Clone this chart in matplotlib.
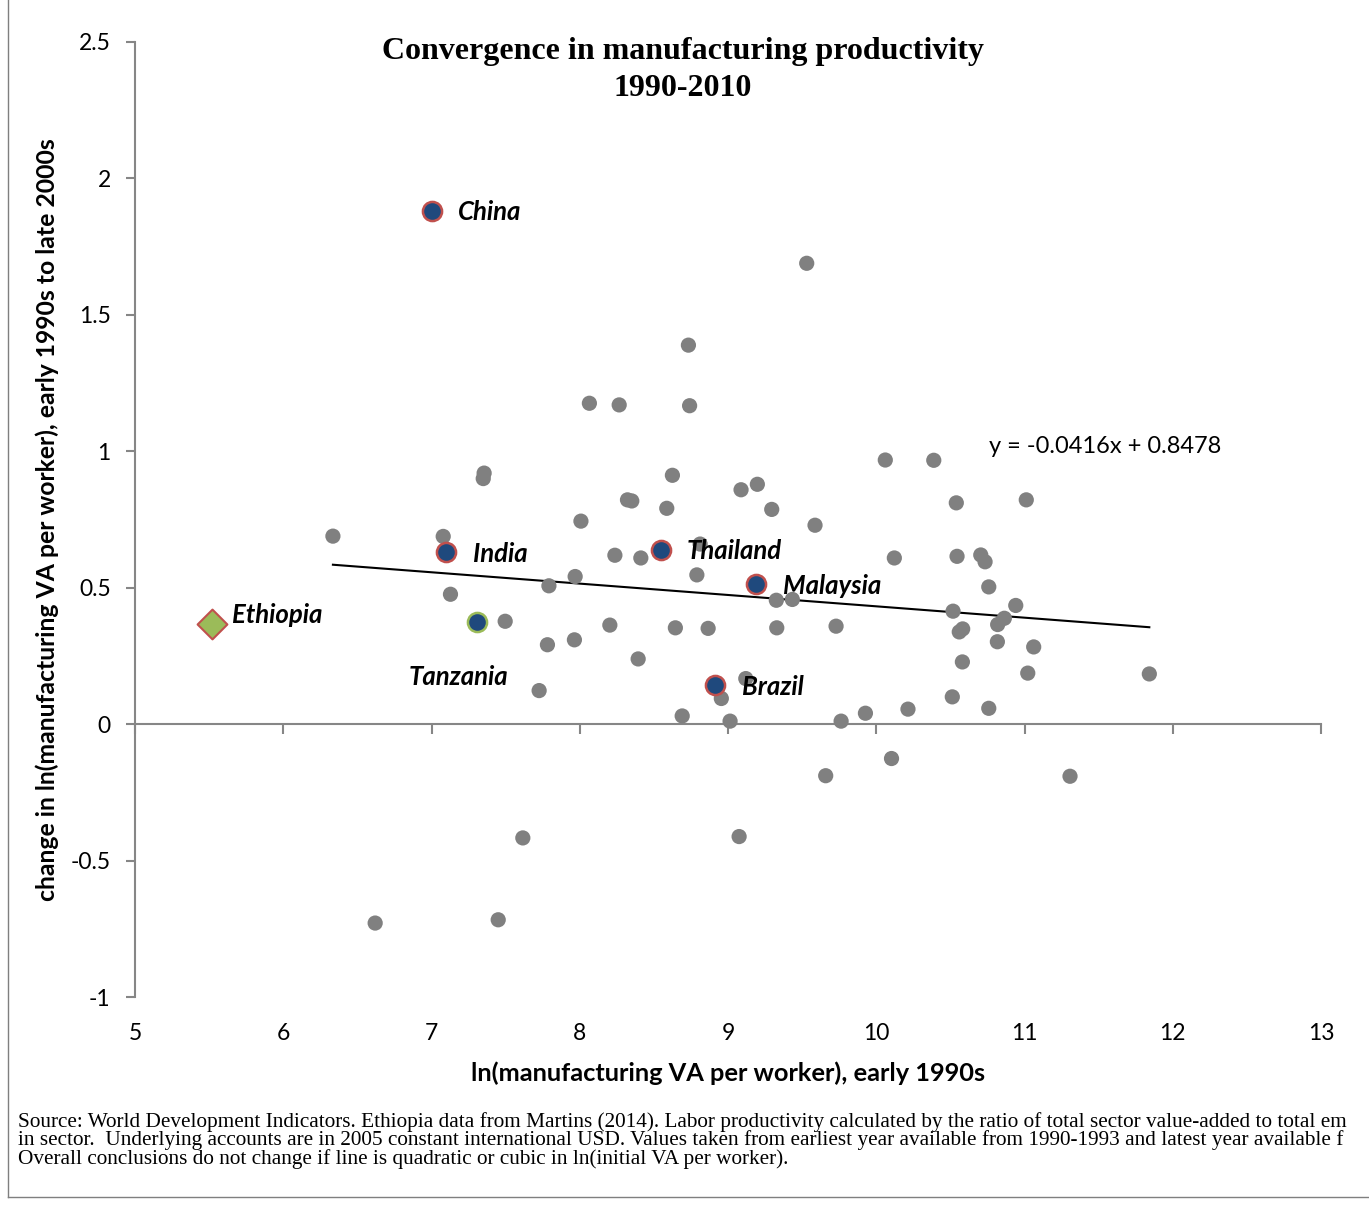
import matplotlib.pyplot as plt
import matplotlib.lines as mlines
import numpy as np

# ln(VA per worker) early 1990s, change to late 2000s -- all other countries
other_x = [6.335, 6.62, 7.079, 7.128, 7.355, 7.349, 7.497, 7.450, 7.616, 7.726,
           7.792, 7.782, 7.969, 7.964, 8.008, 8.065, 8.203, 8.237, 8.266, 8.322,
           8.351, 8.394, 8.412, 8.587, 8.625, 8.645, 8.691, 8.733, 8.741, 8.790,
           8.812, 8.866, 8.955, 9.014, 9.075, 9.088, 9.120, 9.198, 9.295, 9.326,
           9.329, 9.434, 9.531, 9.587, 9.659, 9.729, 9.763, 9.927, 10.061, 10.103,
           10.122, 10.214, 10.388, 10.513, 10.518, 10.540, 10.545, 10.560, 10.583, 10.581,
           10.705, 10.734, 10.759, 10.759, 10.819, 10.817, 10.864, 10.941, 11.012, 11.022,
           11.062, 11.307, 11.842]
other_y = [0.689, -0.729, 0.688, 0.476, 0.920, 0.900, 0.377, -0.717, -0.417, 0.123,
           0.507, 0.291, 0.541, 0.309, 0.744, 1.176, 0.363, 0.619, 1.170, 0.822,
           0.818, 0.239, 0.609, 0.791, 0.912, 0.353, 0.030, 1.389, 1.167, 0.547,
           0.660, 0.351, 0.094, 0.011, -0.412, 0.859, 0.167, 0.879, 0.787, 0.454,
           0.353, 0.457, 1.689, 0.729, -0.189, 0.359, 0.011, 0.040, 0.968, -0.126,
           0.609, 0.055, 0.967, 0.100, 0.414, 0.811, 0.615, 0.338, 0.349, 0.228,
           0.620, 0.595, 0.503, 0.058, 0.365, 0.302, 0.388, 0.435, 0.822, 0.187,
           0.283, -0.191, 0.184]

# highlighted countries
hl_names = ["China", "India", "Thailand", "Malaysia", "Brazil"]
hl_x = [7.00, 7.10, 8.546, 9.19, 8.914]
hl_y = [1.882, 0.630, 0.640, 0.513, 0.143]

tz_x, tz_y = 7.31, 0.375       # Tanzania
eth_x, eth_y = 5.52, 0.366     # Ethiopia

# trendline reported on the chart
slope, intercept = -0.0416, 0.8478

x_ticks = [5, 6, 7, 8, 9, 10, 11, 12, 13]
y_ticks = [-1, -0.5, 0, 0.5, 1, 1.5, 2, 2.5]
y_tick_labels = ["-1", "-0.5", "0", "0.5", "1", "1.5", "2", "2.5"]

label_font = "Lato"
grey_axis = "#868686"
navy = "#1F497D"
red_edge = "#C0504D"
green = "#9BBB59"

fig = plt.figure(figsize=(13.69, 12.05), dpi=100)
ax = fig.add_axes([135 / 1369, 1 - 997 / 1205, (1321 - 135) / 1369, (997 - 42) / 1205])
ax.set_xlim(5, 13)
ax.set_ylim(-1, 2.5)

# axes styling: left spine, horizontal axis line at y=0
for side in ["top", "right", "bottom"]:
    ax.spines[side].set_visible(False)
ax.spines["left"].set_color(grey_axis)
ax.spines["left"].set_linewidth(1.5)

ax.set_yticks(y_ticks)
ax.set_yticklabels(y_tick_labels, fontfamily=label_font)
ax.tick_params(axis="y", direction="out", length=6.5, width=1.5, color=grey_axis,
               labelsize=16.5, pad=11)

ax.set_xticks(x_ticks)
ax.set_xticklabels([str(v) for v in x_ticks], fontfamily=label_font)
ax.tick_params(axis="x", length=0, labelsize=16.5, pad=19)

sec = ax.secondary_xaxis(1.0 / 3.5)
sec.set_xticks(x_ticks)
sec.set_xticklabels([])
sec.spines["bottom"].set_color(grey_axis)
sec.spines["bottom"].set_linewidth(1.5)
sec.tick_params(axis="x", direction="out", length=7, width=1.5, color=grey_axis)

# trendline
tx = np.array([min(other_x), max(other_x)])
ax.plot(tx, slope * tx + intercept, color="black", lw=1.5, zorder=2)

# points
ax.scatter(other_x, other_y, s=120, color="#808080", edgecolors="none", zorder=3)
ax.scatter(hl_x, hl_y, s=190, color=navy, edgecolors=red_edge, linewidths=1.8, zorder=4)
ax.scatter([tz_x], [tz_y], s=190, color=navy, edgecolors=green, linewidths=1.8, zorder=4)
ax.scatter([eth_x], [eth_y], s=230, marker="D", color=green, edgecolors=red_edge,
           linewidths=1.5, zorder=4)

lab_kw = dict(textcoords="offset points", fontsize=18.5, fontweight="bold",
              fontstyle="italic", fontfamily=label_font, va="center")
for name, xv, yv in zip(hl_names, hl_x, hl_y):
    ax.annotate(name, (xv, yv), xytext=(19, -1), ha="left", **lab_kw)
ax.annotate("Ethiopia", (eth_x, eth_y), xytext=(14, 7), ha="left", **lab_kw)
ax.annotate("Tanzania", (tz_x, tz_y), xytext=(-14, -40), ha="center", **lab_kw)

ax.text(10.763, 1.019, "y = -0.0416x + 0.8478", fontsize=17, fontfamily=label_font,
        ha="left", va="center")

ax.set_xlabel("ln(manufacturing VA per worker), early 1990s", fontsize=18.3,
              fontweight="bold", fontfamily=label_font, labelpad=12)
ax.set_ylabel("change in ln(manufacturing VA per worker), early 1990s to late 2000s",
              fontsize=17.8, fontweight="bold", fontfamily=label_font, labelpad=8)

title_kw = dict(ha="center", va="center", fontsize=23, fontweight="bold",
                fontfamily="Liberation Serif")
fig.text(683 / 1369, 1 - 51 / 1205, "Convergence in manufacturing productivity", **title_kw)
fig.text(683 / 1369, 1 - 88 / 1205, "1990-2010", **title_kw)

# source note, cut where the original image cuts it
notes = [
    "Source: World Development Indicators. Ethiopia data from Martins (2014). Labor productivity "
    "calculated by the ratio of total sector value-added to total em",
    "in sector.  Underlying accounts are in 2005 constant international USD. Values taken from "
    "earliest year available from 1990-1993 and latest year available f",
    "Overall conclusions do not change if line is quadratic or cubic in ln(initial VA per worker).",
]
for i, line in enumerate(notes):
    fig.text(18 / 1369, 1 - (1122 + 18.5 * i) / 1205, line, ha="left", va="center",
             fontsize=15.3, fontfamily="Liberation Serif")

# outer frame
fig.add_artist(mlines.Line2D([8 / 1369, 8 / 1369], [1, 1 - 1197 / 1205],
                             transform=fig.transFigure, color="#7f7f7f", lw=1))
fig.add_artist(mlines.Line2D([8 / 1369, 1], [1 - 1197 / 1205, 1 - 1197 / 1205],
                             transform=fig.transFigure, color="#7f7f7f", lw=1))

fig.savefig("out.png", dpi=100)
